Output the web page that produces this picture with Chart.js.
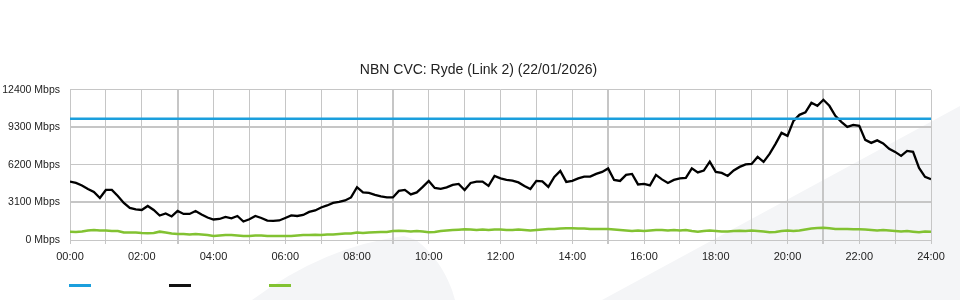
<!DOCTYPE html>
<html>
  <head>
    <title>NBN CVC: Ryde (Link 2)</title>
    <script src="https://cdn.jsdelivr.net/npm/chart.js@4.4.1/dist/chart.umd.min.js"></script>
    <style>
      body { margin: 0; background: #fff; }
      #wrap { position: relative; width: 960px; height: 300px; }
      .key { position: absolute; top: 284px; width: 22px; height: 3px; }
    </style>
  </head>
  <body>
    <div id="wrap">
      <canvas id="canvas" width="960" height="300"></canvas>
      <div class="key" style="left:69px;background:#1b9fdd"></div>
      <div class="key" style="left:169px;background:#111"></div>
      <div class="key" style="left:269px;background:#82c232"></div>
    </div>
    <script>
      // samples every 10 minutes, 00:00 .. 24:00
      const times = [];
      for (let m = 0; m <= 1440; m += 10) times.push(m);

      const capacity = 10000;

      const traffic = [
        4820, 4712, 4505, 4216, 3968, 3472, 4133, 4133, 3637, 3059,
        2645, 2521, 2480, 2811, 2480, 2025, 2191, 1943, 2397, 2149,
        2149, 2397, 2108, 1860, 1695, 1736, 1901, 1794, 1984, 1529,
        1711, 1984, 1819, 1596, 1571, 1612, 1819, 2025, 1984, 2067,
        2315, 2439, 2687, 2852, 3059, 3141, 3265, 3513, 4357, 3927,
        3885, 3720, 3596, 3513, 3513, 4051, 4133, 3761, 3927, 4381,
        4877, 4299, 4216, 4340, 4547, 4629, 4133, 4712, 4820, 4820,
        4464, 5291, 5084, 4960, 4902, 4753, 4464, 4216, 4877, 4836,
        4381, 5208, 5704, 4795, 4877, 5084, 5233, 5233, 5456, 5622,
        5911, 4960, 4877, 5374, 5456, 4588, 4629, 4505, 5374, 5002,
        4712, 4960, 5084, 5126, 5911, 5580, 5729, 6473, 5622, 5539,
        5291, 5746, 6035, 6242, 6283, 6862, 6448, 7110, 7936, 8846,
        8598, 9838, 10334, 10540, 11326, 11078, 11574, 11078, 10251, 9755,
        9342, 9507, 9424, 8267, 8019, 8226, 7978, 7523, 7275, 6944,
        7358, 7275, 5952, 5208, 5018
      ];

      const upstream = [
        686, 661, 703, 785, 827, 785, 785, 744, 744, 620,
        620, 620, 579, 554, 579, 686, 620, 537, 496, 496,
        455, 496, 455, 413, 331, 372, 413, 413, 372, 331,
        331, 372, 372, 331, 331, 331, 331, 331, 372, 413,
        413, 438, 413, 455, 455, 496, 537, 537, 620, 579,
        620, 637, 661, 661, 744, 769, 744, 703, 744, 703,
        637, 661, 744, 785, 827, 851, 885, 868, 827, 868,
        827, 868, 868, 827, 827, 868, 827, 785, 827, 868,
        909, 909, 951, 967, 967, 951, 951, 909, 909, 909,
        909, 868, 827, 785, 744, 785, 744, 785, 827, 827,
        785, 827, 785, 827, 744, 686, 744, 785, 744, 703,
        703, 744, 769, 744, 785, 744, 703, 637, 661, 744,
        785, 744, 785, 868, 951, 992, 1017, 967, 909, 909,
        909, 885, 885, 868, 827, 785, 827, 785, 744, 703,
        744, 686, 637, 703, 686
      ];

      const yTicks = [0, 3100, 6200, 9300, 12400];
      const majorHours = [180, 540, 900, 1260];

      const pts = (arr) => arr.map((v, i) => ({ x: times[i], y: v }));

      // faint watermark shapes behind the plot
      const backdrop = {
        id: 'backdrop',
        beforeDraw(chart) {
          const c = chart.ctx;
          c.save();
          c.fillStyle = '#f4f5f7';
          c.beginPath();
          c.moveTo(602, 300);
          c.lineTo(960, 106);
          c.lineTo(960, 300);
          c.closePath();
          c.fill();
          c.beginPath();
          c.moveTo(252, 300);
          c.quadraticCurveTo(325, 246, 404, 236);
          c.lineTo(416, 240);
          c.quadraticCurveTo(440, 258, 452, 290);
          c.lineTo(455, 300);
          c.closePath();
          c.fill();
          c.restore();
        }
      };

      const family = '"Liberation Sans", Arial, sans-serif';

      new Chart(document.getElementById('canvas'), {
        type: 'line',
        data: {
          datasets: [
            {
              label: 'Capacity',
              data: pts(times.map(() => capacity)),
              borderColor: '#1b9fdd',
              borderWidth: 2.5,
              pointRadius: 0
            },
            {
              label: 'Downstream',
              data: pts(traffic),
              borderColor: '#000',
              borderWidth: 2.3,
              pointRadius: 0
            },
            {
              label: 'Upstream',
              data: pts(upstream),
              borderColor: '#82c232',
              borderWidth: 2.6,
              pointRadius: 0
            }
          ]
        },
        plugins: [backdrop],
        options: {
          responsive: false,
          animation: false,
          layout: { padding: { top: 52, right: 3, bottom: 0, left: 0 } },
          plugins: {
            legend: { display: false },
            tooltip: { enabled: false },
            title: {
              display: true,
              text: 'NBN CVC: Ryde (Link 2) (22/01/2026)',
              color: '#222',
              font: { family: family, size: 14, weight: 'normal' },
              padding: { top: 10, bottom: 11 }
            }
          },
          scales: {
            x: {
              type: 'linear',
              min: 0,
              max: 1440,
              border: { display: false },
              grid: {
                color: '#c6c6c6',
                lineWidth: (ctx) => (ctx.tick && majorHours.includes(ctx.tick.value) ? 2 : 1),
                tickLength: 4
              },
              ticks: {
                stepSize: 60,
                autoSkip: false,
                maxRotation: 0,
                padding: 6,
                color: '#222',
                font: { family: family, size: 11 },
                callback: (v) => (v % 120 === 0 ? String(v / 60).padStart(2, '0') + ':00' : '')
              },
              afterFit: (s) => { s.height = 60; }
            },
            y: {
              min: 0,
              max: 12400,
              border: { display: false },
              afterBuildTicks: (s) => { s.ticks = yTicks.map((v) => ({ value: v })); },
              grid: {
                color: '#c6c6c6',
                drawTicks: false,
                lineWidth: (ctx) => (ctx.tick && (ctx.tick.value === 3100 || ctx.tick.value === 9300) ? 2 : 1)
              },
              ticks: {
                padding: 10,
                color: '#222',
                font: { family: family, size: 10.5 },
                callback: (v) => v + ' Mbps'
              },
              afterFit: (s) => { s.width = 70; }
            },
            // empty right-hand spacer so the plot ends at the same place as the original
            spacer: {
              type: 'linear',
              position: 'right',
              display: true,
              grid: { display: false },
              border: { display: false },
              ticks: { display: false },
              afterFit: (s) => { s.width = 26; }
            }
          }
        }
      });
    </script>
  </body>
</html>
